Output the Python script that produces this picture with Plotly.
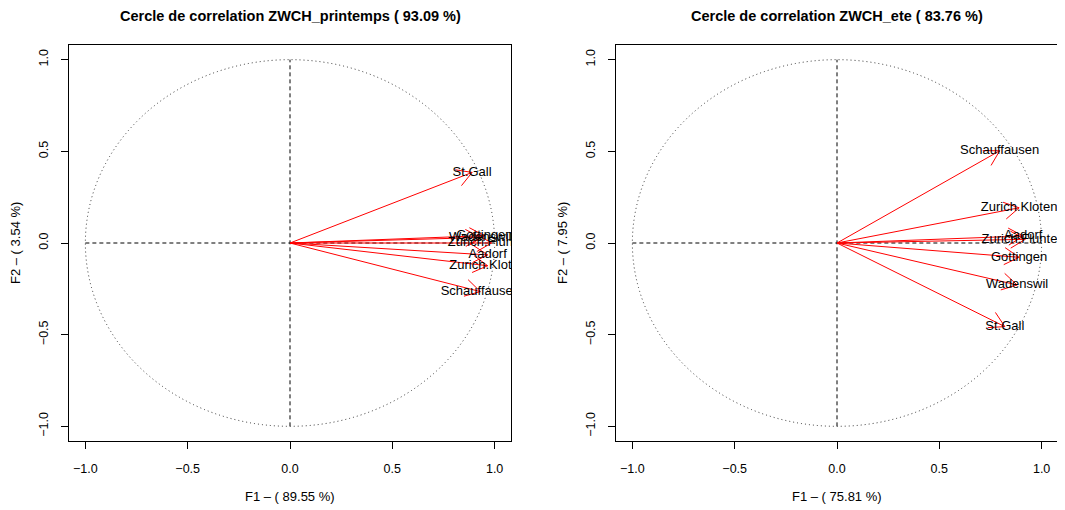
import math
import plotly.graph_objects as go

W, H = 1065, 510
OFF = 8  # page body margin in the browser

# ---- data ----
titles = ["Cercle de correlation ZWCH_printemps ( 93.09 %)",
          "Cercle de correlation ZWCH_ete ( 83.76 %)"]
xlabels = ["F1 \u2013 ( 89.55 %)", "F1 \u2013 ( 75.81 %)"]
ylabels = ["F2 \u2013 ( 3.54 %)", "F2 \u2013 ( 7.95 %)"]

stations_spring = ["St.Gall", "Gottingen", "Wadenswil", "Zurich.Fluntern",
                   "Aadorf", "Zurich.Kloten", "Schauffausen"]
f1_spring = [0.89, 0.95, 0.93, 0.985, 0.966, 0.966, 0.93]
f2_spring = [0.385, 0.04, 0.03, 0.0, -0.065, -0.124, -0.265]

stations_summer = ["Schauffausen", "Zurich.Kloten", "Aadorf", "Zurich.Fluntern",
                   "Gottingen", "Wadenswil", "St.Gall"]
f1_summer = [0.795, 0.89, 0.91, 0.92, 0.89, 0.88, 0.82]
f2_summer = [0.503, 0.192, 0.038, 0.02, -0.078, -0.229, -0.456]

ticks = [-1.0, -0.5, 0.0, 0.5, 1.0]
RANGE = [-1.08, 1.08]

# ---- layout geometry (target pixels in the screenshot) ----
xdoms = [(69 - OFF, 511 - OFF), (616 - OFF, 1058 - OFF)]
ytop, ybot = 45 - OFF, 441 - OFF
ydom = [(H - ybot) / H, (H - ytop) / H]

FONT = "Liberation Sans, Arial, Helvetica, sans-serif"

fig = go.Figure()
panels = [(stations_spring, f1_spring, f2_spring), (stations_summer, f1_summer, f2_summer)]

HEAD_LEN = 17.0
HEAD_ANG = math.radians(30)

for i, (names, xs, ys) in enumerate(panels):
    xa = "x" if i == 0 else "x2"
    ya = "y" if i == 0 else "y2"
    x0p, x1p = xdoms[i]
    sx = (x1p - x0p) / (RANGE[1] - RANGE[0])
    sy = (ybot - ytop) / (RANGE[1] - RANGE[0])

    lx, ly = [], []
    for x, y in zip(xs, ys):
        lx += [0, x, None]
        ly += [0, y, None]
        ang = math.atan2(y * sy, x * sx)
        for s in (1, -1):
            a = ang + s * HEAD_ANG
            wx = x - HEAD_LEN * math.cos(a) / sx
            wy = y - HEAD_LEN * math.sin(a) / sy
            lx += [wx, x, None]
            ly += [wy, y, None]
    fig.add_trace(go.Scatter(x=lx, y=ly, mode="lines", xaxis=xa, yaxis=ya,
                             line=dict(color="#FF0000", width=1),
                             showlegend=False, hoverinfo="skip"))
    fig.add_trace(go.Scatter(x=xs, y=ys, mode="text", text=names,
                             textposition="middle center", xaxis=xa, yaxis=ya,
                             textfont=dict(family=FONT, size=13, color="black"),
                             cliponaxis=True, showlegend=False))

    # reference circle and axes cross
    fig.add_shape(type="circle", xref=xa, yref=ya, x0=-1, y0=-1, x1=1, y1=1,
                  line=dict(color="#333333", width=1, dash="1px,3px"), layer="below")
    fig.add_shape(type="line", xref=xa, yref=ya, x0=-1, y0=0, x1=1, y1=0,
                  line=dict(color="black", width=1, dash="4px,3px"), layer="below")
    fig.add_shape(type="line", xref=xa, yref=ya, x0=0, y0=-1, x1=0, y1=1,
                  line=dict(color="black", width=1, dash="4px,3px"), layer="below")

    cx = (x0p + x1p) / 2 / W
    fig.add_annotation(text="<b>" + titles[i] + "</b>", xref="paper", yref="paper",
                       x=cx, y=1 - (16 - OFF) / H, showarrow=False, xanchor="center",
                       yanchor="middle", font=dict(family=FONT, size=14.5, color="black"))
    fig.add_annotation(text=xlabels[i], xref="paper", yref="paper",
                       x=cx, y=1 - (496 - OFF) / H, showarrow=False, xanchor="center",
                       yanchor="middle", font=dict(family=FONT, size=13, color="black"))
    fig.add_annotation(text=ylabels[i], xref="paper", yref="paper",
                       x=(x0p - 53) / W, y=1 - ((ytop + ybot) / 2) / H, showarrow=False,
                       textangle=-90, xanchor="center", yanchor="middle",
                       font=dict(family=FONT, size=13, color="black"))

axis_common = dict(range=RANGE, showgrid=False, zeroline=False, showline=True,
                   mirror=True, linecolor="black", linewidth=1, ticks="outside",
                   ticklen=7, tickcolor="black", tickwidth=1, tickvals=ticks,
                   tickformat=".1f", fixedrange=True,
                   tickfont=dict(family=FONT, size=12.5, color="black"))

fig.update_layout(
    width=W, height=H, margin=dict(l=0, r=0, t=0, b=0),
    paper_bgcolor="white", plot_bgcolor="white",
    xaxis=dict(domain=[xdoms[0][0] / W, xdoms[0][1] / W], anchor="y",
               ticklabelstandoff=9, **axis_common),
    yaxis=dict(domain=ydom, anchor="x", tickangle=-90, ticklabelstandoff=8, **axis_common),
    xaxis2=dict(domain=[xdoms[1][0] / W, xdoms[1][1] / W], anchor="y2",
                ticklabelstandoff=9, **axis_common),
    yaxis2=dict(domain=ydom, anchor="x2", tickangle=-90, ticklabelstandoff=8, **axis_common),
    font=dict(family=FONT),
)

fig.write_html("out.html")
